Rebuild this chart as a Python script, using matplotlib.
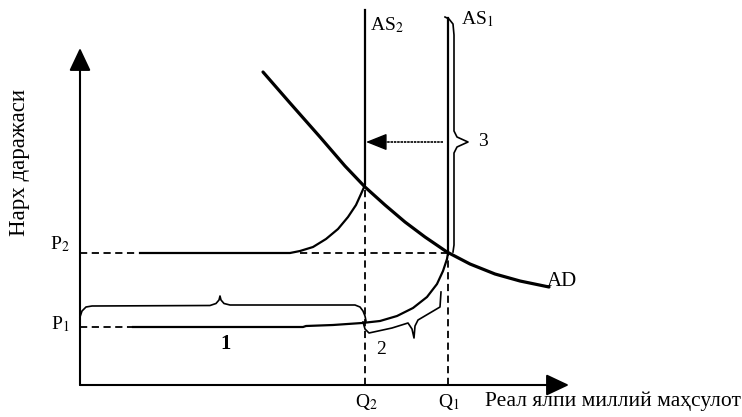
import matplotlib.pyplot as plt

plt.rcParams['font.family'] = ['Liberation Serif', 'DejaVu Serif']
plt.rcParams['mathtext.fontset'] = 'stix'

# levels on the axes
q2 = 28.5
q1 = 36.8
p1 = 5.8
p2 = 13.2
x_axis_end = 48.9
y_axis_end = 33.7

# aggregate demand curve
ad_x = (18.3, 21.0, 24.0, 26.5, 28.5, 30.5, 32.5, 34.5, 36.7, 39.0, 41.5, 44.0, 46.9)
ad_y = (31.3, 28.2, 24.8, 21.9, 19.8, 18.0, 16.3, 14.8, 13.3, 12.1, 11.1, 10.4, 9.8)

# AS1: flat at P1, rising, then vertical at Q1
as1_x = (5.3, 22.3, 22.6, 25.3, 28.2, 30.0, 31.7, 33.3, 34.7, 35.7, 36.3, 36.7, 36.8, 36.8)
as1_y = (5.8, 5.8, 5.9, 6.0, 6.2, 6.4, 6.9, 7.7, 8.8, 10.1, 11.4, 12.6, 13.2, 36.7)

# AS2: flat at P2, rising, then vertical at Q2
as2_x = (6.0, 21.0, 22.0, 23.3, 24.6, 25.8, 26.8, 27.6, 28.1, 28.5, 28.5)
as2_y = (13.2, 13.2, 13.4, 13.8, 14.6, 15.6, 16.8, 18.0, 19.1, 20.0, 37.5)

# braces 1, 2, 3
br1_x = (0.0, 0.2, 0.6, 1.2, 13.0, 13.6, 13.9, 14.0, 14.1, 14.4, 15.0, 27.5, 28.0, 28.3, 28.5, 28.6)
br1_y = (6.8, 7.4, 7.8, 7.9, 7.95, 8.15, 8.5, 8.9, 8.5, 8.15, 8.0, 8.0, 7.8, 7.4, 6.9, 6.4)
br2_x = (28.3, 28.5, 28.9, 31.2, 32.8, 33.2, 33.4, 33.5, 33.8, 36.0, 36.1)
br2_y = (6.3, 5.6, 5.2, 5.7, 6.2, 5.6, 4.7, 5.9, 6.5, 7.8, 9.3)
br3_x = (36.5, 36.9, 37.3, 37.4, 37.4, 37.7, 38.8, 37.7, 37.4, 37.4, 37.3)
br3_y = (36.8, 36.6, 36.1, 35.0, 25.4, 24.8, 24.3, 23.8, 23.2, 14.0, 13.3)

shift_y = 24.3
shift_from = 36.3

fig = plt.figure(figsize=(7.42, 4.17), dpi=100)
ax = fig.add_axes([0, 0, 1, 1])
ax.set_xlim(-8.0, 66.2)
ax.set_ylim(-3.2, 38.5)
ax.axis('off')

head = '-|>,head_length=0.7,head_width=0.33'
ax.annotate('', xy=(0, y_axis_end), xytext=(0, 0),
            arrowprops=dict(arrowstyle=head, color='black', lw=1.5, mutation_scale=20, shrinkA=0, shrinkB=0))
ax.annotate('', xy=(x_axis_end, 0), xytext=(0, 0),
            arrowprops=dict(arrowstyle=head, color='black', lw=1.5, mutation_scale=20, shrinkA=0, shrinkB=0))

dash = (0, (4, 2.5))
ax.plot([0, 5.8], [p2, p2], color='black', lw=1.3, ls=dash)
ax.plot([22.0, q1], [p2, p2], color='black', lw=1.3, ls=dash)
ax.plot([0, 5.3], [p1, p1], color='black', lw=1.3, ls=dash)
ax.plot([q2, q2], [0, 19.7], color='black', lw=1.3, ls=dash)
ax.plot([q1, q1], [0, p2], color='black', lw=1.3, ls=dash)

ax.plot(ad_x, ad_y, color='black', lw=2.3, solid_capstyle='round', solid_joinstyle='round')
ax.plot(as1_x, as1_y, color='black', lw=1.6, solid_joinstyle='round')
ax.plot(as2_x, as2_y, color='black', lw=1.6, solid_joinstyle='round')

ax.plot(br1_x, br1_y, color='black', lw=1.2, solid_joinstyle='round')
ax.plot(br2_x, br2_y, color='black', lw=1.2, solid_joinstyle='round')
ax.plot(br3_x, br3_y, color='black', lw=1.2, solid_joinstyle='round')

# shift of AS to the left
ax.plot([shift_from, q2 + 1.5], [shift_y, shift_y], color='black', lw=1.2, ls=(0, (1.5, 0.5)))
ax.annotate('', xy=(q2 + 0.1, shift_y), xytext=(q2 + 1.9, shift_y),
            arrowprops=dict(arrowstyle='-|>,head_length=0.65,head_width=0.26', color='black', lw=1.0,
                            mutation_scale=20, shrinkA=0, shrinkB=0))

fs = 14
ax.text(-6.0, 22.2, 'Нарх даражаси', rotation=90, ha='center', va='center', fontsize=16.5)
ax.text(40.5, -1.6, 'Реал ялпи миллий маҳсулот', ha='left', va='center', fontsize=15.5)
ax.text(-2.0, p2 + 0.9, 'P$_2$', ha='center', va='center', fontsize=fs)
ax.text(-2.0, p1 + 0.3, 'P$_1$', ha='center', va='center', fontsize=fs)
ax.text(q2 + 0.1, -1.7, 'Q$_2$', ha='center', va='center', fontsize=fs)
ax.text(q1 + 0.1, -1.7, 'Q$_1$', ha='center', va='center', fontsize=fs)
ax.text(29.0, 36.0, 'AS$_2$', ha='left', va='center', fontsize=fs)
ax.text(38.1, 36.6, 'AS$_1$', ha='left', va='center', fontsize=fs)
ax.text(46.7, 10.4, 'AD', ha='left', va='center', fontsize=15)
ax.text(39.8, 24.4, '3', ha='left', va='center', fontsize=fs)
ax.text(14.6, 4.1, '1', ha='center', va='center', fontsize=15, fontweight='bold')
ax.text(30.1, 3.6, '2', ha='center', va='center', fontsize=fs)

fig.savefig('out.png', dpi=100, facecolor='white')
